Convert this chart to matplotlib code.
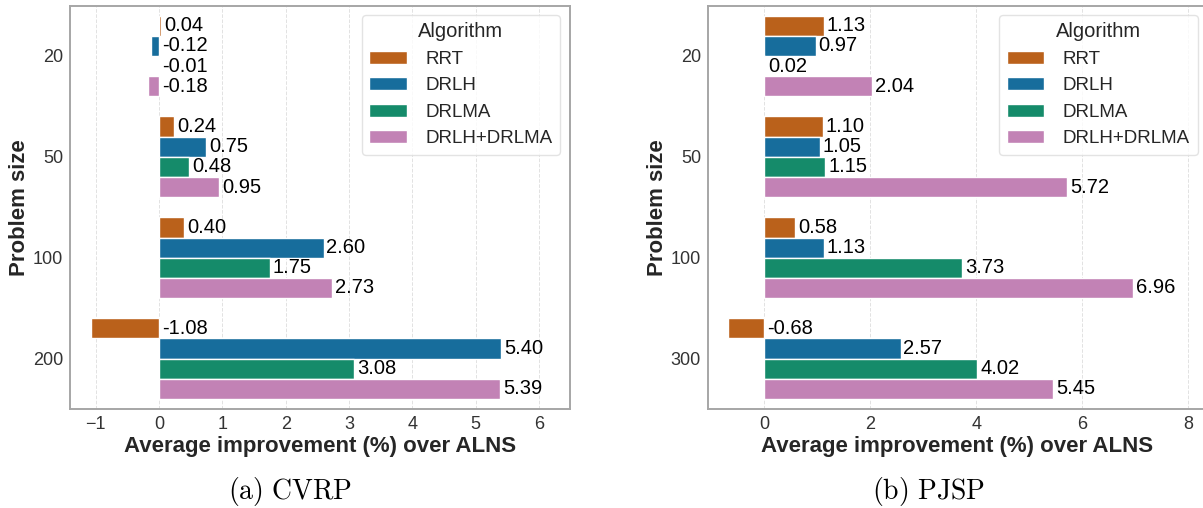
import matplotlib
matplotlib.use("Agg")
import matplotlib.pyplot as plt
import seaborn as sns

# ---- data -------------------------------------------------------------
algorithms = ["RRT", "DRLH", "DRLMA", "DRLH+DRLMA"]

cvrp_sizes = ["20", "50", "100", "200"]
cvrp_rrt = [0.04, 0.24, 0.40, -1.08]
cvrp_drlh = [-0.12, 0.75, 2.60, 5.40]
cvrp_drlma = [-0.01, 0.48, 1.75, 3.08]
cvrp_both = [-0.18, 0.95, 2.73, 5.39]

pjsp_sizes = ["20", "50", "100", "300"]
pjsp_rrt = [1.13, 1.10, 0.58, -0.68]
pjsp_drlh = [0.97, 1.05, 1.13, 2.57]
pjsp_drlma = [0.02, 1.15, 3.73, 4.02]
pjsp_both = [2.04, 5.72, 6.96, 5.45]

x_label = "Average improvement (%) over ALNS"
y_label = "Problem size"

# ---- style ------------------------------------------------------------
sns.set_style("whitegrid")
plt.rcParams["font.family"] = ["Liberation Sans", "DejaVu Sans"]
plt.rcParams["mathtext.fontset"] = "cm"

base = sns.color_palette("colorblind")
colors = [sns.desaturate(base[i], 0.75) for i in (3, 0, 2, 4)]

fig = plt.figure(figsize=(12.03, 5.08), dpi=100)
W, H = 1203.0, 508.0
ax_bottom = (H - 409) / H
ax_height = (409 - 5.5) / H
ax_a = fig.add_axes([70 / W, ax_bottom, 499.5 / W, ax_height])
ax_b = fig.add_axes([708 / W, ax_bottom, 499.0 / W, ax_height])


def draw_panel(ax, sizes, series):
    n = len(series)
    bar_h = 0.8 / n
    containers = []
    all_vals = [v for s in series for v in s]
    for j, (vals, name, col) in enumerate(zip(series, algorithms, colors)):
        ys = [i - 0.4 + bar_h * (j + 0.5) for i in range(len(sizes))]
        bc = ax.barh(ys, vals, height=bar_h, color=col, edgecolor="white",
                     linewidth=1.0, label=name, zorder=2)
        containers.append(bc)
        for y, v in zip(ys, vals):
            ax.annotate(f"{v:.2f}", xy=(max(v, 0), y), xytext=(2.0, 0),
                        textcoords="offset points", ha="left", va="center",
                        fontsize=14.5, color="black", zorder=3)
    lo, hi = min(all_vals), max(all_vals)
    ax.set_xlim(lo - 0.05 * (hi - lo), 1.2 * hi)
    ax.set_ylim(len(sizes) - 0.5, -0.5)
    ax.set_yticks(range(len(sizes)))
    ax.set_yticklabels(sizes)
    ax.set_axisbelow(True)
    ax.grid(axis="y", visible=False)
    ax.grid(axis="x", color="#e2e2e2", linestyle="--", linewidth=0.7)
    ax.tick_params(axis="both", length=0, labelsize=13, colors="#333333")
    ax.tick_params(axis="y", pad=5)
    ax.tick_params(axis="x", pad=5)
    for sp in ax.spines.values():
        sp.set_color("#a6a6a6")
        sp.set_linewidth(1.4)
    ax.set_xlabel(x_label, fontsize=16, fontweight="bold", color="#262626",
                  labelpad=2)
    ax.set_ylabel(y_label, fontsize=16, fontweight="bold", color="#262626",
                  labelpad=2)
    leg = ax.legend(handles=containers, labels=algorithms, title="Algorithm",
                    loc="upper right", fontsize=13.5, title_fontsize=14.5,
                    frameon=True, fancybox=True, framealpha=0.8,
                    edgecolor="#dddddd", labelspacing=0.5, handletextpad=1.0)
    for t in leg.get_texts():
        t.set_color("#262626")
    leg.get_title().set_color("#262626")


draw_panel(ax_a, cvrp_sizes, [cvrp_rrt, cvrp_drlh, cvrp_drlma, cvrp_both])
draw_panel(ax_b, pjsp_sizes, [pjsp_rrt, pjsp_drlh, pjsp_drlma, pjsp_both])

fig.text(290 / W, 1 - 492 / H, r"$\mathrm{(a)\ CVRP}$", fontsize=20,
         ha="center", va="center", color="black")
fig.text(928 / W, 1 - 492 / H, r"$\mathrm{(b)\ PJSP}$", fontsize=20,
         ha="center", va="center", color="black")

fig.savefig("out.png", dpi=100, facecolor="white")
